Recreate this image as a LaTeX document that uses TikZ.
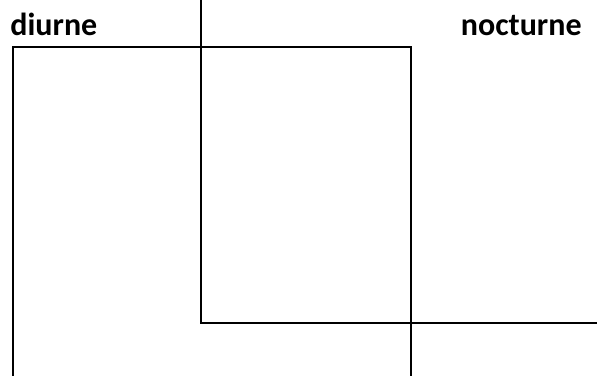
\documentclass[tikz,border=0pt]{standalone}
\usepackage{fontspec}
\setmainfont{Carlito}
\usetikzlibrary{positioning}

\begin{document}
\begin{tikzpicture}[x=0.5pt,y=-0.5pt]
\tikzset{
  boxline/.style={line width=1.2pt,line cap=rect},
  caption/.style={font=\fontsize{16}{19}\selectfont\bfseries,inner sep=0pt}
}
\useasboundingbox (0,0) rectangle (597,375);
\coordinate (d_bl) at (13,375);
\coordinate (d_tl) at (13,47);
\coordinate (d_tr) at (411,47);
\coordinate (d_br) at (411,375);
\coordinate (n_top) at (201,0);
\coordinate (n_corner) at (201,323);
\coordinate (n_end) at (597,323);
\node[caption,anchor=base west] (l_day) at (10,35) {diurne};
\node[caption,anchor=base east] (l_night) at (582,35) {nocturne};
\draw[boxline] (d_bl) -- (d_tl) -- (d_tr) -- (d_br);
\draw[boxline] (n_top) -- (n_corner) -- (n_end);
\end{tikzpicture}
\end{document}
